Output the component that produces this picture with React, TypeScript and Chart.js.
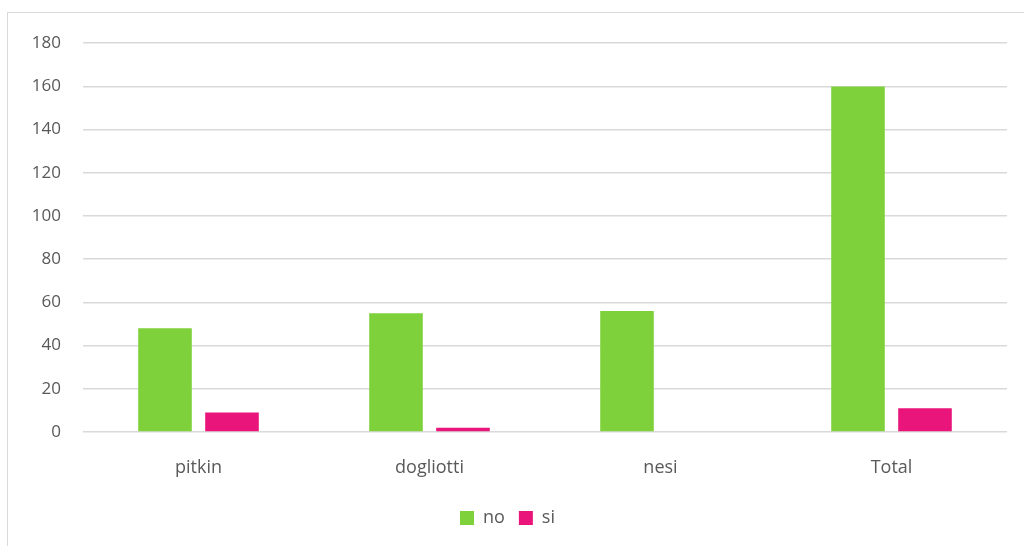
import React, { useEffect, useRef } from "react";
import { Chart, registerables } from "chart.js";

Chart.register(...registerables);

const categories = ["pitkin", "dogliotti", "nesi", "Total"];
const noValues = [48, 55, 56, 160];
const siValues = [9, 2, 0, 11];
const seriesNames = ["no", "si"];
const yTicks = { min: 0, max: 180, step: 20 };

const FONT = "'Open Sans', 'Noto Sans', sans-serif";
const TEXT = "#595959";

export default function App() {
  const ref = useRef<HTMLCanvasElement | null>(null);

  useEffect(() => {
    if (!ref.current) return;
    const chart = new Chart(ref.current, {
      type: "bar",
      data: {
        labels: categories,
        datasets: [
          {
            label: seriesNames[0],
            data: noValues,
            backgroundColor: "#7FD13B",
            categoryPercentage: 0.58,
            barPercentage: 0.8,
          },
          {
            label: seriesNames[1],
            data: siValues,
            backgroundColor: "#EA157A",
            categoryPercentage: 0.58,
            barPercentage: 0.8,
          },
        ],
      },
      options: {
        animation: false,
        responsive: false,
        maintainAspectRatio: false,
        layout: { padding: { top: 27, right: 17, left: 0, bottom: 6 } },
        plugins: {
          tooltip: { enabled: false },
          legend: {
            position: "bottom",
            labels: {
              boxWidth: 14,
              boxHeight: 14,
              padding: 14,
              color: TEXT,
              font: { family: FONT, size: 18 },
            },
          },
        },
        scales: {
          x: {
            grid: { display: false },
            border: { display: false },
            ticks: {
              color: TEXT,
              font: { family: FONT, size: 18 },
              padding: 17,
            },
            afterFit: (s: any) => {
              s.height = 63;
            },
          },
          y: {
            min: yTicks.min,
            max: yTicks.max,
            ticks: {
              stepSize: yTicks.step,
              color: TEXT,
              font: { family: FONT, size: 17 },
              padding: 22,
            },
            grid: { color: "#D9D9D9", lineWidth: 1.5, drawTicks: false },
            border: { display: false },
            afterFit: (s: any) => {
              s.width = 75;
            },
          },
        },
      },
    });
    return () => chart.destroy();
  }, []);

  return (
    <div
      style={{
        position: "fixed",
        left: 7,
        top: 12,
        width: 1040,
        height: 560,
        border: "1px solid #D9D9D9",
        background: "#fff",
        boxSizing: "border-box",
      }}
    >
      <canvas
        ref={ref}
        width={1016}
        height={532}
        style={{ display: "block", marginTop: -2 }}
      />
    </div>
  );
}
